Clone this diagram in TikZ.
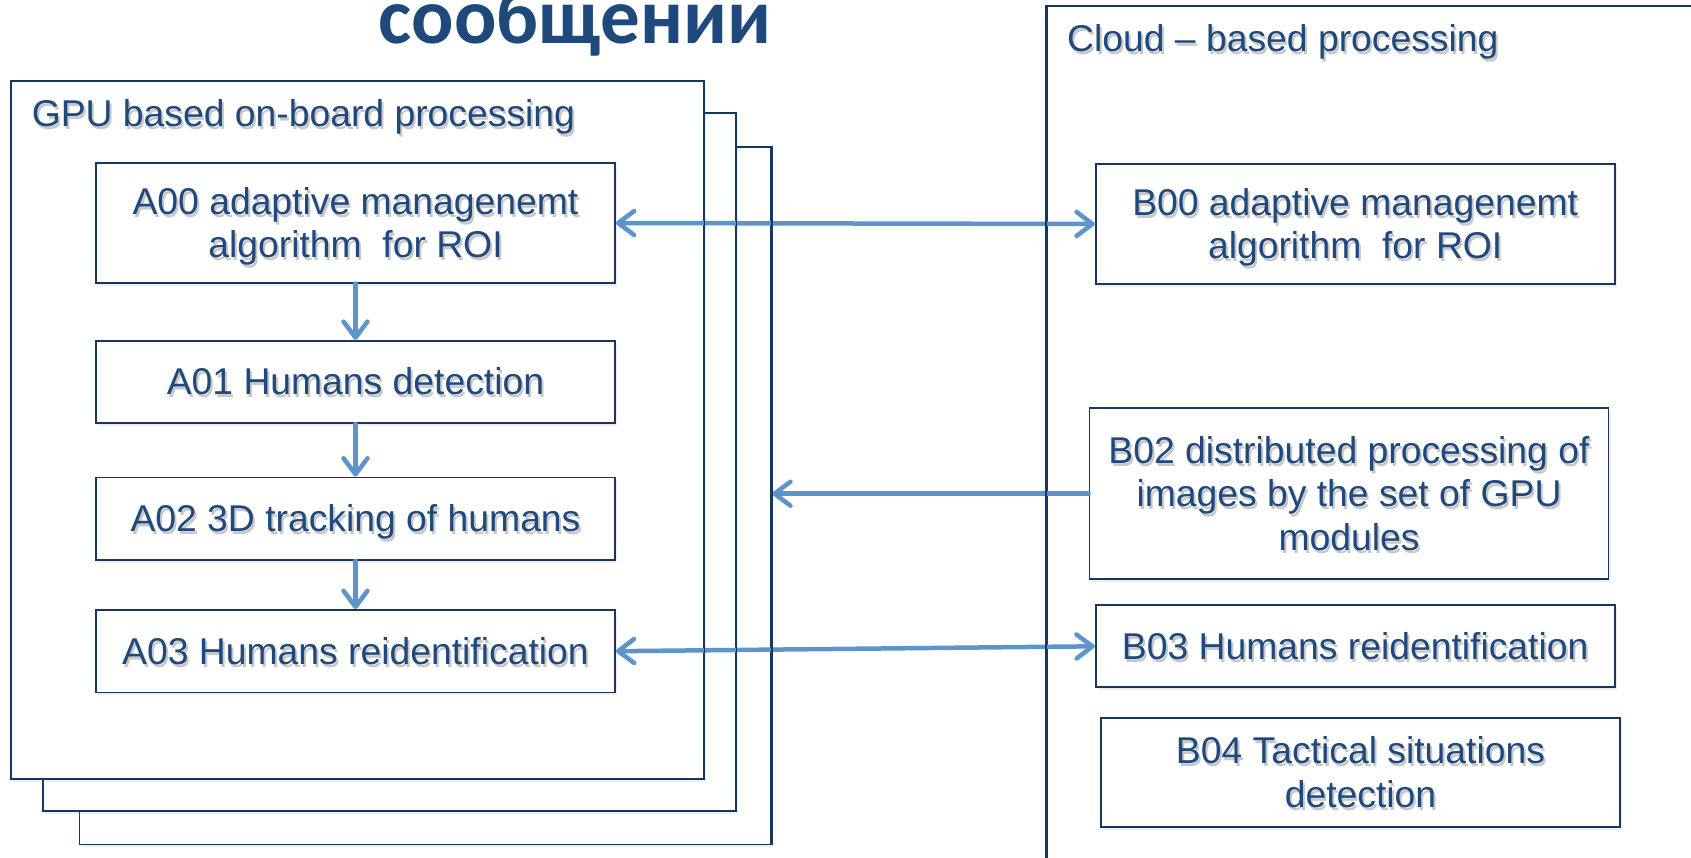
\documentclass[tikz,border=0pt]{standalone}
\usepackage{fontspec}
\setmainfont{Liberation Sans}
\newfontfamily\titlefont{Carlito}
\usetikzlibrary{arrows.meta,shadows}
\definecolor{textblue}{RGB}{31,73,125}
\definecolor{boxline}{RGB}{23,55,94}
\definecolor{arrowblue}{RGB}{93,148,203}
\definecolor{txtshadow}{RGB}{200,200,200}
\newcommand\ppstrut{\rule[-0.212em]{0pt}{1.117em}}
\newcommand\sh[1]{\leavevmode\rlap{\raisebox{-3pt}[0pt][0pt]{\kern2pt\textcolor{txtshadow}{#1}}}#1}
\begin{document}
\begin{tikzpicture}[x=1pt,y=-1pt,
  txt/.style={text=textblue, font=\fontsize{37.3}{43.5}\selectfont},
  shd/.style={drop shadow={shadow xshift=2pt,shadow yshift=-3pt,opacity=0.13}},
  panel/.style={draw=boxline, line width=1.8pt, fill=white, shd, inner sep=0pt},
  box/.style={panel, txt, align=center, minimum width=519pt},
  link/.style={draw=arrowblue, line width=4.5pt, line cap=round},
  edge/.style={draw=boxline, line width=1.8pt},
  >={Straight Barb[length=16pt,width=24pt,round]}
]
\useasboundingbox (0,0) rectangle (1691,857);
\clip (0,0) rectangle (1691,857);

% title (cut at top)
\node[anchor=base, inner sep=0pt, text=textblue,
      font=\titlefont\bfseries\fontsize{79}{80}\selectfont] (title) at (575,43.3) {сообщений};

% GPU stack
\node[panel, anchor=north west, minimum width=691.8pt, minimum height=697.5pt] (gpu3) at (78.6,146) {};
\node[panel, anchor=north west, minimum width=692.4pt, minimum height=697.5pt] (gpu2) at (42.3,112.3) {};
\node[panel, anchor=north west, minimum width=692.4pt, minimum height=697.8pt] (gpu1) at (10.2,80) {};
\node[txt, anchor=base west, inner sep=0pt] (gpulabel) at (31.6,126) {\sh{GPU based on-board processing}};

% Cloud panel
\node[panel, anchor=north west, minimum width=647pt, minimum height=900pt] (cloud) at (1046.3,5) {};
\node[txt, anchor=base west, inner sep=0pt] (cloudlabel) at (1067,51.7) {\sh{Cloud – based processing}};

% A boxes
\node[box, minimum height=119.4pt] (A00) at (355.5,223) {\sh{\ppstrut A00 adaptive managenemt}\\\sh{\ppstrut algorithm\ \ for ROI}};
\node[box, minimum height=82.5pt] (A01) at (355.5,382) {\sh{\ppstrut A01 Humans detection}};
\node[box, minimum height=82.5pt] (A02) at (355.5,518.7) {\sh{\ppstrut A02 3D tracking of humans}};
\node[box, minimum height=82.5pt] (A03) at (355.5,651.2) {\sh{\ppstrut A03 Humans reidentification}};

% B boxes
\node[box, minimum height=119.4pt] (B00) at (1355.2,224) {\sh{\ppstrut B00 adaptive managenemt}\\\sh{\ppstrut algorithm\ \ for ROI}};
\node[box, minimum height=170.7pt] (B02) at (1349,493.7) {\sh{\ppstrut B02 distributed processing of}\\\sh{\ppstrut images by the set of GPU}\\\sh{\ppstrut modules}};
\node[box, minimum height=82pt] (B03) at (1355.2,646.3) {\sh{\ppstrut B03 Humans reidentification}};
\node[box, minimum height=109pt] (B04) at (1360.5,772.8) {\sh{\ppstrut B04 Tactical situations}\\\sh{\ppstrut detection}};

% connectors
\draw[link, <->] (A00.east) -- (B00.west);
\draw[link, ->] (A00.south) -- (A01.north);
\draw[link, ->] (A01.south) -- (A02.north);
\draw[link, ->] (A02.south) -- (A03.north);
\draw[link, <->] (A03.east) -- (B03.west);
\draw[link, ->] (B02.west) -- (B02.west -| gpu3.east);

% panel edges over the arrows
\draw[edge] (gpu1.north east) -- (gpu1.south east);
\draw[edge] (gpu2.north east) -- (gpu2.south east);
\draw[edge] (gpu3.north east) -- (gpu3.south east);
\draw[edge] (cloud.north west) -- (cloud.south west);
\end{tikzpicture}
\end{document}
